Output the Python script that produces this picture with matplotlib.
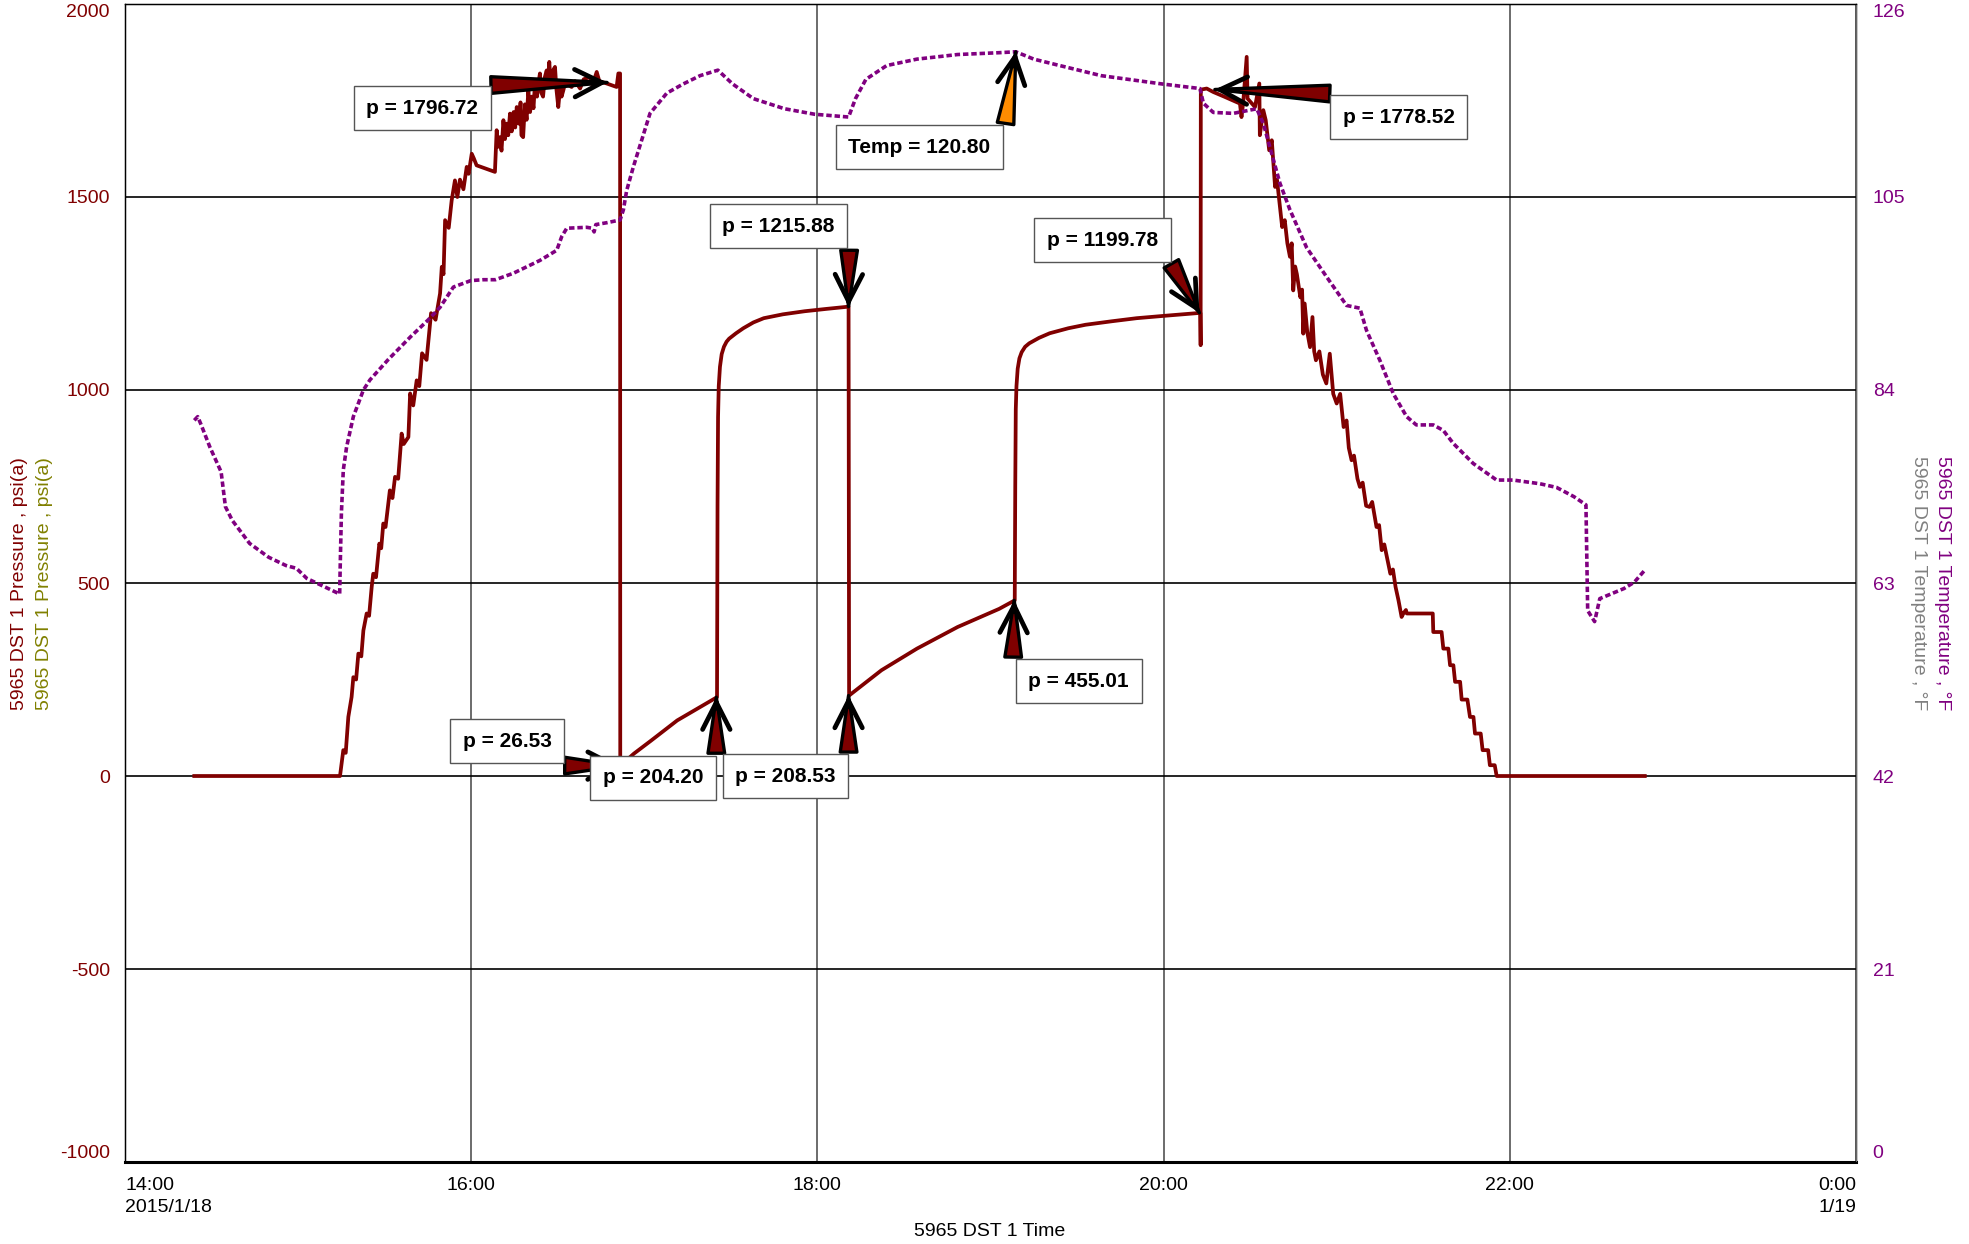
import matplotlib
matplotlib.use('Agg')
import matplotlib.pyplot as plt

plt.rcParams['font.family'] = ['Liberation Sans', 'DejaVu Sans']

# Zaman (saat, ondalik) ve basinc (psi(a))
basinc_saat = [14.40, 15.242, 15.261, 15.275, 15.29, 15.309, 15.319, 15.335, 15.348, 15.365,
               15.377, 15.396, 15.41, 15.425, 15.434, 15.45, 15.469, 15.48, 15.492, 15.505,
               15.521, 15.53, 15.545, 15.56, 15.578, 15.598, 15.61, 15.637, 15.647, 15.665,
               15.685, 15.70, 15.716, 15.742, 15.768, 15.794, 15.82, 15.83, 15.84, 15.849,
               15.87, 15.887, 15.906, 15.92, 15.935, 15.955, 15.974, 15.985, 16.003, 16.015,
               16.031, 16.137, 16.147, 16.155, 16.165, 16.175, 16.186, 16.195, 16.205, 16.214,
               16.224, 16.234, 16.245, 16.254, 16.263, 16.275, 16.285, 16.29, 16.30, 16.31,
               16.32, 16.33, 16.34, 16.35, 16.36, 16.369, 16.38, 16.39, 16.397, 16.405,
               16.415, 16.425, 16.436, 16.443, 16.451, 16.458, 16.465, 16.475, 16.484, 16.492,
               16.503, 16.515, 16.522, 16.532, 16.545, 16.56, 16.58, 16.60, 16.629, 16.65,
               16.686, 16.70, 16.725, 16.74, 16.783, 16.84, 16.85, 16.86, 16.861, 16.94,
               17.04, 17.19, 17.42, 17.423, 17.426, 17.43, 17.437, 17.447, 17.46, 17.475,
               17.49, 17.53, 17.572, 17.63, 17.69, 17.80, 17.926, 18.05, 18.18, 18.183,
               18.37, 18.575, 18.81, 19.05, 19.14, 19.143, 19.146, 19.15, 19.157, 19.167,
               19.18, 19.20, 19.224, 19.28, 19.342, 19.45, 19.549, 19.70, 19.844, 20.0,
               20.212, 20.214, 20.215, 20.249, 20.287, 20.35, 20.441, 20.45, 20.46, 20.48,
               20.485, 20.528, 20.553, 20.556, 20.576, 20.59, 20.61, 20.625, 20.644, 20.655,
               20.672, 20.685, 20.70, 20.715, 20.73, 20.74, 20.749, 20.76, 20.77, 20.79,
               20.80, 20.807, 20.815, 20.83, 20.846, 20.86, 20.87, 20.88, 20.90, 20.92,
               20.94, 20.96, 20.98, 21.0, 21.02, 21.04, 21.057, 21.07, 21.086, 21.10,
               21.12, 21.134, 21.15, 21.17, 21.19, 21.205, 21.23, 21.245, 21.26, 21.275,
               21.31, 21.325, 21.34, 21.357, 21.375, 21.385, 21.40, 21.405, 21.555, 21.558,
               21.606, 21.616, 21.645, 21.655, 21.674, 21.684, 21.713, 21.722, 21.755, 21.77,
               21.79, 21.799, 21.832, 21.843, 21.875, 21.885, 21.913, 21.924, 22.78]
basinc = [0, 0, 67, 60, 153, 205, 256, 250, 317, 310,
          377, 421, 415, 490, 524, 515, 602, 590, 654, 645,
          706, 740, 720, 775, 770, 887, 860, 878, 991, 960,
          1025, 1010, 1095, 1078, 1199, 1182, 1250, 1319, 1300, 1440,
          1420, 1491, 1543, 1500, 1545, 1520, 1578, 1560, 1612, 1600,
          1582, 1565, 1673, 1630, 1655, 1620, 1699, 1650, 1690, 1660,
          1716, 1670, 1720, 1680, 1733, 1690, 1745, 1660, 1655, 1740,
          1700, 1776, 1720, 1760, 1730, 1802, 1760, 1800, 1820, 1770,
          1760, 1810, 1828, 1790, 1850, 1800, 1790, 1830, 1837, 1780,
          1733, 1790, 1760, 1776, 1800, 1790, 1785, 1800, 1781, 1805,
          1811, 1790, 1824, 1800, 1794, 1785, 1820, 1820, 26.5, 58,
          92, 144, 204.2, 700, 930, 1010, 1060, 1093, 1112, 1125,
          1133, 1147, 1160, 1175, 1186, 1196, 1204, 1210, 1215.9, 208.5,
          274, 330, 386, 433, 455, 750, 950, 1010, 1055, 1082,
          1098, 1112, 1121, 1135, 1147, 1160, 1169, 1178, 1186, 1192,
          1199.8, 1116, 1778, 1781, 1772, 1760, 1742, 1707, 1745, 1863,
          1755, 1733, 1794, 1660, 1725, 1699, 1621, 1647, 1526, 1545,
          1474, 1422, 1440, 1380, 1345, 1380, 1258, 1320, 1300, 1240,
          1260, 1146, 1224, 1150, 1111, 1189, 1100, 1077, 1100, 1040,
          1017, 1094, 990, 965, 990, 904, 921, 850, 818, 830,
          770, 749, 760, 700, 697, 710, 645, 650, 585, 600,
          524, 535, 490, 455, 412, 421, 430, 421, 421, 373,
          373, 330, 330, 287, 287, 244, 244, 198, 198, 153,
          153, 110, 110, 67, 67, 28, 28, 0, 0]

# Sicaklik (F)
sicaklik_saat = [14.40, 14.42, 14.44, 14.49, 14.555, 14.58, 14.62, 14.72, 14.83, 14.93,
                 14.99, 15.05, 15.14, 15.24, 15.243, 15.25, 15.261, 15.28, 15.319, 15.377,
                 15.415, 15.52, 15.65, 15.75, 15.82, 15.897, 15.997, 16.07, 16.14, 16.243,
                 16.32, 16.397, 16.494, 16.523, 16.552, 16.667, 16.70, 16.71, 16.72, 16.783,
                 16.86, 16.879, 16.898, 16.937, 16.985, 17.033, 17.13, 17.225, 17.322, 17.425,
                 17.51, 17.63, 17.81, 17.985, 18.18, 18.22, 18.28, 18.40, 18.575, 18.81,
                 19.05, 19.146, 19.25, 19.40, 19.64, 19.99, 20.21, 20.23, 20.287, 20.403,
                 20.538, 20.576, 20.672, 20.73, 20.826, 20.942, 21.057, 21.134, 21.172, 21.25,
                 21.327, 21.404, 21.46, 21.558, 21.616, 21.673, 21.789, 21.924, 22.02, 22.174,
                 22.27, 22.37, 22.44, 22.45, 22.49, 22.52, 22.66, 22.72, 22.78]
sicaklik = [80.7, 81.1, 80.2, 77.8, 75.1, 71.3, 69.8, 67.3, 65.8, 64.9,
            64.6, 63.5, 62.7, 61.8, 64.7, 70.6, 75.3, 77.8, 81.1, 84.0,
            85.1, 87.3, 89.8, 91.6, 93.0, 95.2, 95.9, 96.0, 96.0, 96.7,
            97.4, 98.1, 99.2, 100.7, 101.6, 101.7, 101.6, 101.2, 102.0, 102.2,
            102.5, 103.6, 105.7, 108.3, 111.2, 114.1, 116.3, 117.3, 118.2, 118.8,
            117.3, 115.7, 114.6, 114.0, 113.7, 115.7, 117.8, 119.3, 120.0, 120.5,
            120.7, 120.8, 120.0, 119.3, 118.2, 117.3, 116.8, 115.2, 114.2, 114.1,
            114.6, 113.0, 106.5, 103.6, 99.5, 96.3, 93.2, 92.9, 90.5, 87.2,
            83.6, 81.1, 80.2, 80.2, 79.6, 78.2, 76.0, 74.2, 74.2, 73.8,
            73.4, 72.4, 71.5, 60.0, 58.8, 61.3, 62.4, 63.1, 64.4]

# Eksen etiketleri
x_ticks = [14, 16, 18, 20, 22, 24]
x_labels = ['14:00\n2015/1/18', '16:00', '18:00', '20:00', '22:00', '0:00\n1/19']
p_ticks = [-1000, -500, 0, 500, 1000, 1500, 2000]
t_ticks = [0, 21, 42, 63, 84, 105, 126]

# Isaretler: metin, kutu merkezi, ok ucu, ok kuyrugu, eksen
isaretler = [
    ('p = 1796.72', (15.716, 1730), (16.785, 1796.7), (16.114, 1790), 'p'),
    ('p = 1215.88', (17.775, 1424), (18.18, 1215.9), (18.183, 1362), 'p'),
    ('p = 1199.78', (19.647, 1388), (20.207, 1199.8), (20.045, 1327), 'p'),
    ('p = 1778.52', (21.359, 1707), (20.296, 1778.5), (20.96, 1768), 'p'),
    ('p = 455.01', (19.51, 246), (19.137, 455), (19.131, 308), 'p'),
    ('p = 208.53', (17.816, 0), (18.18, 208.5), (18.18, 62), 'p'),
    ('p = 26.53', (16.207, 90), (16.86, 26.5), (16.54, 27), 'p'),
    ('p = 204.20', (17.05, -5), (17.416, 204.2), (17.416, 59), 'p'),
    ('Temp = 120.80', (18.59, 110.4), (19.146, 120.8), (19.087, 113.0), 't'),
]

kirmizi = '#800000'
mor = '#800080'

fig = plt.figure(figsize=(19.69, 12.44), dpi=100)
ax = fig.add_axes([0.0635, 0.0659, 0.8791, 0.9309])
ax2 = ax.twinx()

ax.plot(basinc_saat, basinc, color=kirmizi, lw=2.7, zorder=3)
ax2.plot(sicaklik_saat, sicaklik, color=mor, lw=2.6, linestyle=(0, (1.5, 0.8)), zorder=3)

ax.set_xlim(14, 24)
ax.set_ylim(-1000, 2000)
ax2.set_ylim(0, 126)

ax.set_xticks(x_ticks)
ax.set_xticklabels(x_labels, fontsize=14)
ax.set_yticks(p_ticks)
ax.set_yticklabels([str(v) for v in p_ticks], fontsize=14, color=kirmizi)
ax2.set_yticks(t_ticks)
ax2.set_yticklabels([str(v) for v in t_ticks], fontsize=14, color=mor)
ax.tick_params(axis='x', length=0, pad=11)
ax.tick_params(axis='y', length=0, pad=11)
ax2.tick_params(axis='y', length=0, pad=12)

xl = ax.get_xticklabels()
xl[0].set_ha('left')
xl[-1].set_ha('right')
for lab in xl:
    lab.set_linespacing(1.4)
for axis_labels in (ax.get_yticklabels(), ax2.get_yticklabels()):
    axis_labels[0].set_va('bottom')
    axis_labels[-1].set_va('top')

# Izgara
ax.grid(axis='x', color='#444444', lw=1.1)
ax.grid(axis='y', color='black', lw=1.2)
ax.set_axisbelow(True)
for sp in ax.spines.values():
    sp.set_linewidth(1.0)
ax.spines['bottom'].set_linewidth(2.2)
ax2.spines['right'].set_color('#666666')

# Ok ve kutu isaretleri
for metin, kutu, uc, kuyruk, tur in isaretler:
    hedef = ax if tur == 'p' else ax2
    dolgu = kirmizi if tur == 'p' else '#FF8C00'
    hedef.annotate('', xy=uc, xytext=kuyruk,
                   arrowprops=dict(arrowstyle='wedge,tail_width=0.4,shrink_factor=0.5',
                                   fc=dolgu, ec='black', lw=2.4, mutation_scale=30,
                                   shrinkA=0, shrinkB=0), zorder=5)
    dx = uc[0] - kuyruk[0]
    dy = uc[1] - kuyruk[1]
    hedef.annotate('', xy=uc, xytext=(uc[0] - dx * 0.2, uc[1] - dy * 0.2),
                   arrowprops=dict(arrowstyle='->,head_length=0.65,head_width=0.33',
                                   color='black', lw=3.4, mutation_scale=30,
                                   shrinkA=0, shrinkB=0), zorder=6)
    hedef.text(kutu[0], kutu[1], metin, fontsize=15, fontweight='bold',
               ha='center', va='center', zorder=7,
               bbox=dict(boxstyle='square,pad=0.6', fc='white', ec='#555555', lw=1.0))

# Eksen basliklari
fig.text(20 / 1969, 0.531, '5965 DST 1 Pressure , psi(a)', rotation=90,
         ha='center', va='center', fontsize=14, color=kirmizi)
fig.text(44.6 / 1969, 0.531, '5965 DST 1 Pressure , psi(a)', rotation=90,
         ha='center', va='center', fontsize=14, color='#808000')
fig.text(1918.6 / 1969, 0.531, '5965 DST 1 Temperature , °F', rotation=-90,
         ha='center', va='center', fontsize=14, color='#808080')
fig.text(1942 / 1969, 0.531, '5965 DST 1 Temperature , °F', rotation=-90,
         ha='center', va='center', fontsize=14, color=mor)
fig.text(990 / 1969, 1 - 1231 / 1244, '5965 DST 1 Time', ha='center', va='center',
         fontsize=14, color='black')

fig.savefig('out.png', dpi=100)
